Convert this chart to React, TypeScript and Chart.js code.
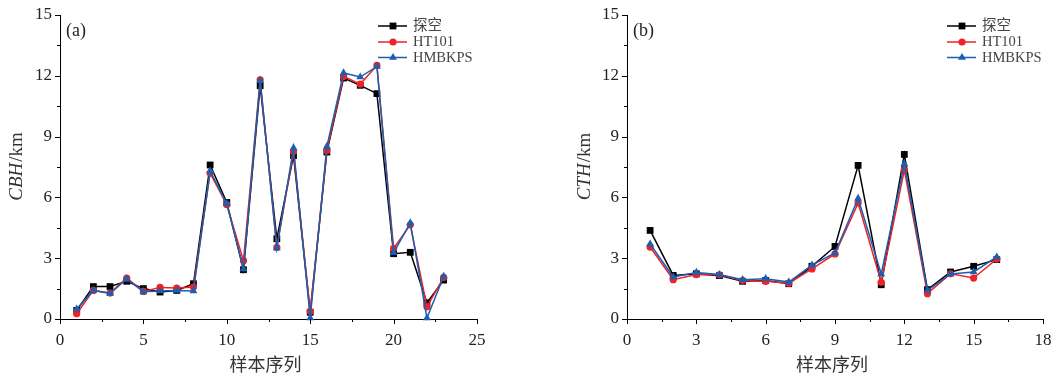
import React, { useEffect, useRef } from 'react';
import { Chart, registerables } from 'chart.js';

Chart.register(...registerables);

// ---------- data ----------
const seriesNames = ['探空', 'HT101', 'HMBKPS'];
const seriesColors = ['#000000', '#ee2228', '#1a5fb0'];

const cbhSamples = [1, 2, 3, 4, 5, 6, 7, 8, 9, 10, 11, 12, 13, 14, 15, 16, 17, 18, 19, 20, 21, 22, 23];
const cbhSounding = [0.42, 1.6, 1.6, 1.86, 1.5, 1.33, 1.41, 1.74, 7.6, 5.75, 2.43, 11.51, 3.96, 8.06, 0.33, 8.24, 11.89, 11.53, 11.12, 3.22, 3.29, 0.8, 1.92];
const cbhHT101 = [0.26, 1.41, 1.28, 2.02, 1.36, 1.56, 1.53, 1.58, 7.2, 5.64, 2.88, 11.8, 3.53, 8.27, 0.38, 8.32, 11.97, 11.59, 12.51, 3.48, 4.65, 0.6, 2.05];
const cbhHMBKPS = [0.49, 1.41, 1.26, 1.98, 1.34, 1.38, 1.41, 1.38, 7.3, 5.69, 2.47, 11.77, 3.5, 8.44, 0.05, 8.52, 12.14, 11.94, 12.46, 3.27, 4.74, 0.05, 2.1];

const cthSamples = [1, 2, 3, 4, 5, 6, 7, 8, 9, 10, 11, 12, 13, 14, 15, 16];
const cthSounding = [4.37, 2.15, 2.23, 2.14, 1.86, 1.9, 1.74, 2.6, 3.58, 7.58, 1.69, 8.12, 1.45, 2.32, 2.6, 2.93];
const cthHT101 = [3.55, 1.94, 2.19, 2.18, 1.9, 1.86, 1.77, 2.47, 3.21, 5.72, 1.81, 7.35, 1.25, 2.23, 2.02, 2.96];
const cthHMBKPS = [3.7, 2.07, 2.3, 2.19, 1.94, 1.99, 1.82, 2.66, 3.26, 5.95, 2.22, 7.65, 1.41, 2.22, 2.32, 3.06];

const yTicks = [0, 3, 6, 9, 12, 15];
const cbhXTicks = [0, 5, 10, 15, 20, 25];
const cthXTicks = [0, 3, 6, 9, 12, 15, 18];

const xAxisTitle = '样本序列';

// ---------- helpers ----------
const SERIF = '"Liberation Serif", "Noto Sans CJK SC", serif';
const pointStyles = ['rect', 'circle', 'triangle'] as const;
const pointRadii = [4.8, 3.6, 4.6];

function drawMarker(ctx: CanvasRenderingContext2D, style: string, x: number, y: number, r: number, color: string) {
  ctx.fillStyle = color;
  ctx.beginPath();
  if (style === 'rect') {
    const s = Math.SQRT1_2 * r;
    ctx.rect(x - s, y - s, 2 * s, 2 * s);
  } else if (style === 'circle') {
    ctx.arc(x, y, r, 0, Math.PI * 2);
  } else {
    ctx.moveTo(x, y - r);
    ctx.lineTo(x + Math.cos(Math.PI / 6) * r, y + r * 0.5);
    ctx.lineTo(x - Math.cos(Math.PI / 6) * r, y + r * 0.5);
  }
  ctx.closePath();
  ctx.fill();
}

type PanelProps = {
  left: number;
  width: number;
  chartLeft: number;
  chartRight: number;
  samples: number[];
  values: number[][];
  xTicks: number[];
  xMinorStep: number;
  yItalic: string;
  tag: string;
  legendX: number;
  yTitleX: number;
};

function Panel(p: PanelProps) {
  const ref = useRef<HTMLCanvasElement>(null);
  useEffect(() => {
    const canvas = ref.current!;
    const xMax = p.xTicks[p.xTicks.length - 1];
    const xStep = p.xTicks[1] - p.xTicks[0];

    const decor = {
      id: 'decor',
      afterDraw(chart: any) {
        const ctx: CanvasRenderingContext2D = chart.ctx;
        const xs = chart.scales.x;
        const ys = chart.scales.y;
        const area = chart.chartArea;
        ctx.save();
        // ticks
        ctx.strokeStyle = '#000';
        ctx.lineWidth = 1;
        ctx.beginPath();
        for (let v = 0; v <= xMax + 1e-9; v += p.xMinorStep) {
          const major = Math.abs(v / xStep - Math.round(v / xStep)) < 1e-6;
          const px = Math.round(xs.getPixelForValue(v)) + 0.5;
          ctx.moveTo(px, area.bottom);
          ctx.lineTo(px, area.bottom + (major ? 5 : 3));
        }
        for (let v = 0; v <= 15 + 1e-9; v += 1.5) {
          const major = Math.abs(v / 3 - Math.round(v / 3)) < 1e-6;
          const py = Math.round(ys.getPixelForValue(v)) + 0.5;
          ctx.moveTo(area.left, py);
          ctx.lineTo(area.left - (major ? 5 : 3), py);
        }
        ctx.stroke();

        // panel tag
        ctx.fillStyle = '#222';
        ctx.font = `18px ${SERIF}`;
        ctx.textAlign = 'left';
        ctx.textBaseline = 'middle';
        ctx.fillText(p.tag, area.left + 6, 31);

        // x title
        ctx.font = `18px "Noto Sans CJK SC", sans-serif`;
        ctx.textAlign = 'center';
        ctx.textBaseline = 'middle';
        ctx.fillStyle = '#333';
        ctx.fillText(xAxisTitle, (area.left + area.right) / 2 - 3, 364);

        // y title (rotated, italic part + normal part)
        ctx.save();
        ctx.translate(p.yTitleX, (area.top + area.bottom) / 2);
        ctx.rotate(-Math.PI / 2);
        ctx.textBaseline = 'middle';
        ctx.textAlign = 'left';
        const fItal = `italic 19px ${SERIF}`;
        const fNorm = `19px ${SERIF}`;
        ctx.font = fItal;
        const w1 = ctx.measureText(p.yItalic).width;
        ctx.font = fNorm;
        const w2 = ctx.measureText('/km').width;
        const start = -(w1 + w2) / 2;
        ctx.font = fItal;
        ctx.fillText(p.yItalic, start, 0);
        ctx.font = fNorm;
        ctx.fillText('/km', start + w1 + 1, 0);
        ctx.restore();

        // legend
        const rows = [26, 42, 57.5];
        ctx.font = `14.5px ${SERIF}`;
        ctx.textAlign = 'left';
        ctx.textBaseline = 'middle';
        seriesNames.forEach((name, i) => {
          const y = rows[i];
          ctx.strokeStyle = seriesColors[i];
          ctx.lineWidth = 1.5;
          ctx.beginPath();
          ctx.moveTo(p.legendX, y);
          ctx.lineTo(p.legendX + 29, y);
          ctx.stroke();
          drawMarker(ctx, pointStyles[i], p.legendX + 15, y, pointRadii[i], seriesColors[i]);
          ctx.fillStyle = '#444';
          ctx.fillText(name, p.legendX + 35, y + 0.5);
        });
        ctx.restore();
      },
    };

    const datasets = p.values.map((vals, i) => ({
      label: seriesNames[i],
      data: p.samples.map((s, k) => ({ x: s, y: vals[k] })),
      borderColor: seriesColors[i],
      backgroundColor: seriesColors[i],
      borderWidth: 1.5,
      pointStyle: pointStyles[i],
      pointRadius: pointRadii[i],
      pointBorderWidth: 0,
      pointBackgroundColor: seriesColors[i],
      tension: 0,
      clip: false as any,
      order: 3 - i,
    }));

    const chart = new Chart(canvas, {
      type: 'line',
      data: { datasets },
      plugins: [decor],
      options: {
        responsive: false,
        animation: false,
        devicePixelRatio: 1,
        layout: { padding: { top: 15, right: p.width - p.chartRight, left: 0, bottom: 0 } },
        plugins: { legend: { display: false }, tooltip: { enabled: false }, title: { display: false } },
        scales: {
          x: {
            type: 'linear',
            min: 0,
            max: xMax,
            afterBuildTicks: (s: any) => {
              s.ticks = p.xTicks.map((v) => ({ value: v }));
            },
            ticks: {
              color: '#222',
              font: { family: SERIF, size: 17 },
              padding: 11,
              maxRotation: 0,
              autoSkip: false,
            },
            grid: { display: false, drawTicks: false },
            border: { display: true, color: '#000', width: 1 },
            afterFit: (s: any) => {
              s.height = 58;
              s.paddingLeft = 0;
              s.paddingRight = 0;
            },
          },
          y: {
            type: 'linear',
            min: 0,
            max: 15,
            afterBuildTicks: (s: any) => {
              s.ticks = yTicks.map((v) => ({ value: v }));
            },
            ticks: {
              color: '#222',
              font: { family: SERIF, size: 17 },
              padding: 8,
              autoSkip: false,
            },
            grid: { display: false, drawTicks: false },
            border: { display: true, color: '#000', width: 1 },
            afterFit: (s: any) => {
              s.width = p.chartLeft;
              s.paddingTop = 0;
              s.paddingBottom = 0;
            },
          },
        },
      } as any,
    });
    return () => chart.destroy();
  }, []);
  return (
    <canvas
      ref={ref}
      width={p.width}
      height={377}
      style={{ position: 'absolute', left: p.left, top: 0, width: p.width, height: 377 }}
    />
  );
}

export default function App() {
  return (
    <div style={{ position: 'absolute', left: 0, top: 0, width: 1058, height: 377, background: '#fff' }}>
      <Panel
        left={0}
        width={529}
        chartLeft={60}
        chartRight={477}
        samples={cbhSamples}
        values={[cbhSounding, cbhHT101, cbhHMBKPS]}
        xTicks={cbhXTicks}
        xMinorStep={2.5}
        yItalic="CBH"
        tag="(a)"
        legendX={378}
        yTitleX={17}
      />
      <Panel
        left={529}
        width={529}
        chartLeft={98}
        chartRight={514}
        samples={cthSamples}
        values={[cthSounding, cthHT101, cthHMBKPS]}
        xTicks={cthXTicks}
        xMinorStep={1.5}
        yItalic="CTH"
        tag="(b)"
        legendX={418}
        yTitleX={56}
      />
    </div>
  );
}
